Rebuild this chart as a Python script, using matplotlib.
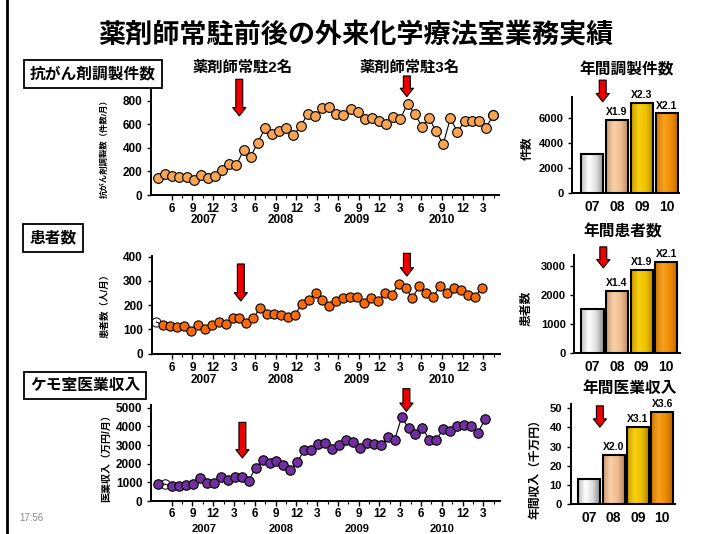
import numpy as np
import matplotlib
matplotlib.use('Agg')
import matplotlib.pyplot as plt
from matplotlib.colors import LinearSegmentedColormap
from matplotlib.lines import Line2D

plt.rcParams['font.family'] = ['Liberation Sans', 'Noto Sans CJK JP']
plt.rcParams['font.weight'] = 'bold'

W, H = 704, 534

# 月別データ (2007年4月〜2011年3月)
prep = [140, 180, 160, 150, 155, 125, 170, 145, 160, 215,
        260, 255, 380, 325, 445, 565, 520, 540, 565, 505,
        585, 685, 670, 735, 745, 685, 680, 725, 705, 645,
        655, 625, 600, 665, 645, 775, 690, 580, 655, 540,
        430, 650, 535, 625, 625, 625, 565, 680]
patients = [130, 117, 114, 109, 113, 92, 117, 101, 117, 131,
            120, 148, 145, 124, 148, 186, 163, 163, 159, 152,
            159, 204, 221, 251, 221, 197, 218, 228, 232, 232,
            210, 228, 218, 252, 241, 286, 269, 230, 279, 248,
            234, 280, 248, 269, 262, 241, 234, 269]
revenue = [920, 900, 780, 780, 870, 920, 1215, 955, 990, 1300,
           1130, 1265, 1265, 1095, 1770, 2205, 2050, 2135, 1910, 1685,
           2085, 2730, 2730, 3060, 3130, 2790, 3015, 3280, 3190, 2840,
           3100, 3050, 3000, 3430, 3275, 4480, 3920, 3570, 3920, 3275,
           3275, 3870, 3745, 4005, 4060, 4005, 3660, 4390]
month_lbl = ['6', '9', '12', '3'] * 4
year_lbl = ['2007', '2008', '2009', '2010']

# 年間データ
fy_lbl = ['07', '08', '09', '10']
prep_year = [3100, 5900, 7250, 6400]
pat_year = [1510, 2160, 2880, 3170]
rev_year = [13.2, 25.7, 40.2, 48.0]
prep_ratio = ['', 'X1.9', 'X2.3', 'X2.1']
pat_ratio = ['', 'X1.4', 'X1.9', 'X2.1']
rev_ratio = ['', 'X2.0', 'X3.1', 'X3.6']

bar_cols = [['#bcbcbc', '#ffffff', '#dedede', '#8a8a8a'],
            ['#c99a72', '#f8d0aa', '#efbb8e', '#b7845e'],
            ['#c89800', '#f8d010', '#eec000', '#b08400'],
            ['#d07800', '#f7a020', '#ee8c00', '#bb6600']]

fig = plt.figure(figsize=(W / 100, H / 100), dpi=100)


def px_axes(l, t, r, b):
    return fig.add_axes([l / W, 1 - b / H, (r - l) / W, (b - t) / H])


def ftext(x, y, s, **kw):
    return fig.text(x / W, 1 - y / H, s, **kw)


def style(ax):
    for s in ['top', 'right']:
        ax.spines[s].set_visible(False)
    for s in ['left', 'bottom']:
        ax.spines[s].set_linewidth(1.4)
    ax.tick_params(axis='y', direction='out', length=3, width=1, pad=3.2, labelsize=8.5)


def red_arrow(ax, x, y_top, y_tip):
    ax.annotate('', xy=(x, y_tip), xytext=(x, y_top),
                arrowprops=dict(arrowstyle='simple,head_width=0.95,head_length=0.6,tail_width=0.5',
                                fc='#ee0000', ec='black', lw=0.8, shrinkA=0, shrinkB=0),
                annotation_clip=False)


tick_px = np.linspace(171.7, 483.3, 16)
year_px = [204, 281, 357, 442]


def line_chart(box, vals, x0, dx, ylim, yticks, fc, ms, white, arrows, year_y, pad=2.5,
               year_va='center', year_fs=8.5):
    ax = px_axes(*box)
    style(ax)
    vals = np.array(vals)
    idx = np.arange(len(vals))
    mask = idx != white
    ax.plot(idx, vals, color='black', lw=0.8, zorder=2)
    ax.plot(idx[white], vals[white], 'o', ms=ms, mfc='white', mec='black', mew=0.7, zorder=1.5)
    ax.plot(idx[mask], vals[mask], 'o', ms=ms, mfc=fc, mec='black', mew=0.8, zorder=3,
            linestyle='none')
    ax.set_xlim((box[0] - x0) / dx, (box[2] - x0) / dx)
    ax.set_ylim(*ylim)
    ax.set_yticks(yticks)
    ticks = (tick_px - x0) / dx
    ax.set_xticks(ticks)
    ax.set_xticklabels(month_lbl)
    mid = (ticks[:-1] + ticks[1:]) / 2
    ax.set_xticks(list(mid) + [ticks[-1] + (ticks[1] - ticks[0]) / 2], minor=True)
    ax.tick_params(axis='x', direction='out', length=3.5, width=1, pad=pad, labelsize=8.5)
    ax.tick_params(axis='x', which='minor', length=2, width=0.8)
    for (xa, yt, yb) in arrows:
        red_arrow(ax, xa, yt, yb)
    for xp, s in zip(year_px, year_lbl):
        ftext(xp, year_y, s, ha='center', va=year_va, fontsize=year_fs)
    return ax


def bar_chart(box, vals, ratios, xlim, ylim, yticks, arrow):
    ax = px_axes(*box)
    style(ax)
    x = np.arange(len(vals))
    bars = ax.bar(x, vals, width=0.9, color='none', edgecolor='black', linewidth=1.5, zorder=3)
    grad = np.linspace(0, 1, 128).reshape(1, -1)
    for b, c in zip(bars, bar_cols):
        cmap = LinearSegmentedColormap.from_list('g', c)
        ax.imshow(grad, cmap=cmap, aspect='auto', zorder=2,
                  extent=(b.get_x(), b.get_x() + b.get_width(), 0, b.get_height()))
    for b, r in zip(bars, ratios):
        if r:
            ax.annotate(r, (b.get_x() + b.get_width() / 2, b.get_height()), xytext=(0, 2),
                        textcoords='offset points', ha='center', va='bottom', fontsize=7.5,
                        annotation_clip=False)
    ax.set_xlim(*xlim)
    ax.set_ylim(*ylim)
    ax.set_yticks(yticks)
    ax.set_xticks(x)
    ax.set_xticklabels(fy_lbl)
    ax.tick_params(axis='x', length=0, pad=5, labelsize=10)
    ax.tick_params(axis='y', labelsize=8)
    red_arrow(ax, *arrow)
    return ax


# タイトル・枠
fig.add_artist(Line2D([7 / W, 7 / W], [0, 1], color='black', lw=2))
ftext(356, 36, '薬剤師常駐前後の外来化学療法室業務実績', ha='center', va='center', fontsize=19.5)
ftext(31, 518, '17:56', ha='center', va='center', fontsize=7, color='#888888', fontweight='normal')

box_kw = dict(boxstyle='square,pad=0.4', fc='white', ec='black', lw=1.3)
ftext(93, 74, '抗がん剤調製件数', ha='center', va='center', fontsize=11.3, bbox=box_kw)
ftext(53, 238, '患者数', ha='center', va='center', fontsize=11.3, bbox=box_kw)
ftext(85, 385.5, 'ケモ室医業収入', ha='center', va='center', fontsize=11.3, bbox=box_kw)

# 月別折れ線
line_chart((151, 90, 499, 195), prep, 158, 7.13, (0, 890), [0, 200, 400, 600, 800],
           '#f7a455', 7, -1, [(11.4, 981, 670), (34.9, 1009, 834)], 220)
line_chart((151.5, 255.5, 500, 353.5), patients, 156.4, 6.92, (0, 405), [0, 100, 200, 300, 400],
           '#fb6a0a', 6.6, 0, [(12.2, 370, 217), (36.2, 414, 320)], 380)
line_chart((151, 405, 500, 501), revenue, 158.3, 6.95, (0, 5150), [0, 1000, 2000, 3000, 4000, 5000],
           '#7030a0', 6.8, 1, [(12.1, 4219, 2307), (35.7, 6026, 4807)], 534, pad=1.5,
           year_va='bottom', year_fs=8)

ftext(243, 68, '薬剤師常駐2名', ha='center', va='center', fontsize=11)
ftext(410, 68, '薬剤師常駐3名', ha='center', va='center', fontsize=11)

ftext(105, 146.7, '抗がん剤調製数（件数/月）', rotation=90, ha='center', va='center', fontsize=6)
ftext(105, 303, '患者数（人/月）', rotation=90, ha='center', va='center', fontsize=6.8)
ftext(106, 456, '医業収入（万円/月）', rotation=90, ha='center', va='center', fontsize=7.2)

# 年間棒グラフ
bar_chart((572.3, 96.7, 679, 192.7), prep_year, prep_ratio, (-0.79, 3.49), (0, 7750),
          [0, 2000, 4000, 6000], (0.43, 9089, 7339))
bar_chart((574.3, 255, 680, 352.7), pat_year, pat_ratio, (-0.74, 3.56), (0, 3400),
          [0, 1000, 2000, 3000], (0.44, 3683, 2951))
bar_chart((570.7, 404.3, 675, 504.3), rev_year, rev_ratio, (-0.77, 3.52), (0, 52),
          [0, 10, 20, 30, 40, 50], (0.43, 51.2, 40.1))

ftext(627, 70, '年間調製件数', ha='center', va='center', fontsize=11.3)
ftext(623, 231.7, '年間患者数', ha='center', va='center', fontsize=11.3)
ftext(630, 388.3, '年間医業収入', ha='center', va='center', fontsize=11.3)
ftext(528, 148, '件数', rotation=90, ha='center', va='center', fontsize=8.5)
ftext(527, 308, '患者数', rotation=90, ha='center', va='center', fontsize=8.5)
ftext(535, 466, '年間収入（千万円）', rotation=90, ha='center', va='center', fontsize=8.5)

fig.savefig('out.png', dpi=100)
